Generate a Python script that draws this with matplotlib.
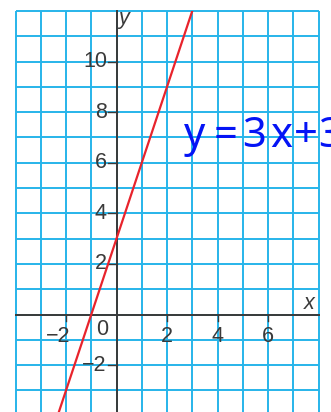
import numpy as np
import matplotlib
matplotlib.use('Agg')
import matplotlib.pyplot as plt

# line y = 3x + 3 on a square grid
slope = 3
intercept = 3
x_line = [-2.3, 3]

x_ticks = [-2, 2, 4, 6]
y_ticks = [-2, 2, 4, 6, 8, 10]
x_grid = list(range(-4, 9))
y_grid = list(range(-3, 13))

equation = 'y=3x+3'

GRID = '#27b4ea'
INK = '#3a3a3a'
RED = '#e8232c'
BLUE = '#0514f5'

plt.rcParams['font.family'] = ['Liberation Sans', 'DejaVu Sans']

fig = plt.figure(figsize=(3.31, 4.12), dpi=100)
ax = fig.add_axes([15.5 / 331, 0, 303 / 331, 1 - 11 / 412])
ax.set_xlim(-4, 8)
ax.set_ylim(-3.85, 12)
ax.axis('off')

# cyan grid, one line per unit
ax.vlines(x_grid, -3.85, 12, colors=GRID, lw=1.4, clip_on=False, zorder=1)
ax.hlines(y_grid, -4, 8, colors=GRID, lw=1.4, clip_on=False, zorder=1)

# axes
ax.plot([-4, 8], [0, 0], color=INK, lw=1.4, clip_on=False, zorder=3)
ax.plot([0, 0], [-3.85, 12], color=INK, lw=1.4, clip_on=False, zorder=3)

# tick marks
for t in x_ticks:
    ax.plot([t, t], [0, -0.25], color=INK, lw=1.0, zorder=3, clip_on=False)
for t in y_ticks:
    ax.plot([-0.35, 0], [t, t], color=INK, lw=1.0, zorder=3, clip_on=False)

# tick labels
FS = 15.5
for t in x_ticks:
    lbl = '\u2212%d' % -t if t < 0 else '%d' % t
    if t < 0:
        ax.text(t + 0.17, -0.86, lbl, ha='right', va='center', fontsize=FS,
                color=INK, zorder=4)
    else:
        ax.text(t, -0.86, lbl, ha='center', va='center', fontsize=FS,
                color=INK, zorder=4)
for t in y_ticks:
    lbl = '\u2212%d' % -t if t < 0 else '%d' % t
    ax.text(-0.38, t, lbl, ha='right', va='center', fontsize=FS, color=INK,
            zorder=4)
ax.text(-0.57, -0.6, '0', ha='center', va='center', fontsize=FS, color=INK,
        zorder=4)

# axis names
ax.text(7.62, 0.42, 'x', ha='center', va='center', fontsize=FS,
        style='italic', color=INK, zorder=4)
ax.text(0.28, 11.7, 'y', ha='center', va='center', fontsize=FS,
        style='italic', color=INK, zorder=4)

# the line itself
xs = np.array(x_line)
ax.plot(xs, slope * xs + intercept, color=RED, lw=1.6, zorder=5)

# equation written beside the line, one glyph at a time (hand spacing)
char_x = [3.10, 4.33, 5.44, 6.51, 7.50, 8.45]
for ch, cx in zip(equation, char_x):
    ax.text(cx, 6.63, ch, ha='center', va='baseline', fontsize=30,
            family='Noto Sans', weight='semibold', color=BLUE,
            clip_on=False, zorder=6)

fig.savefig('out.png', dpi=100)
